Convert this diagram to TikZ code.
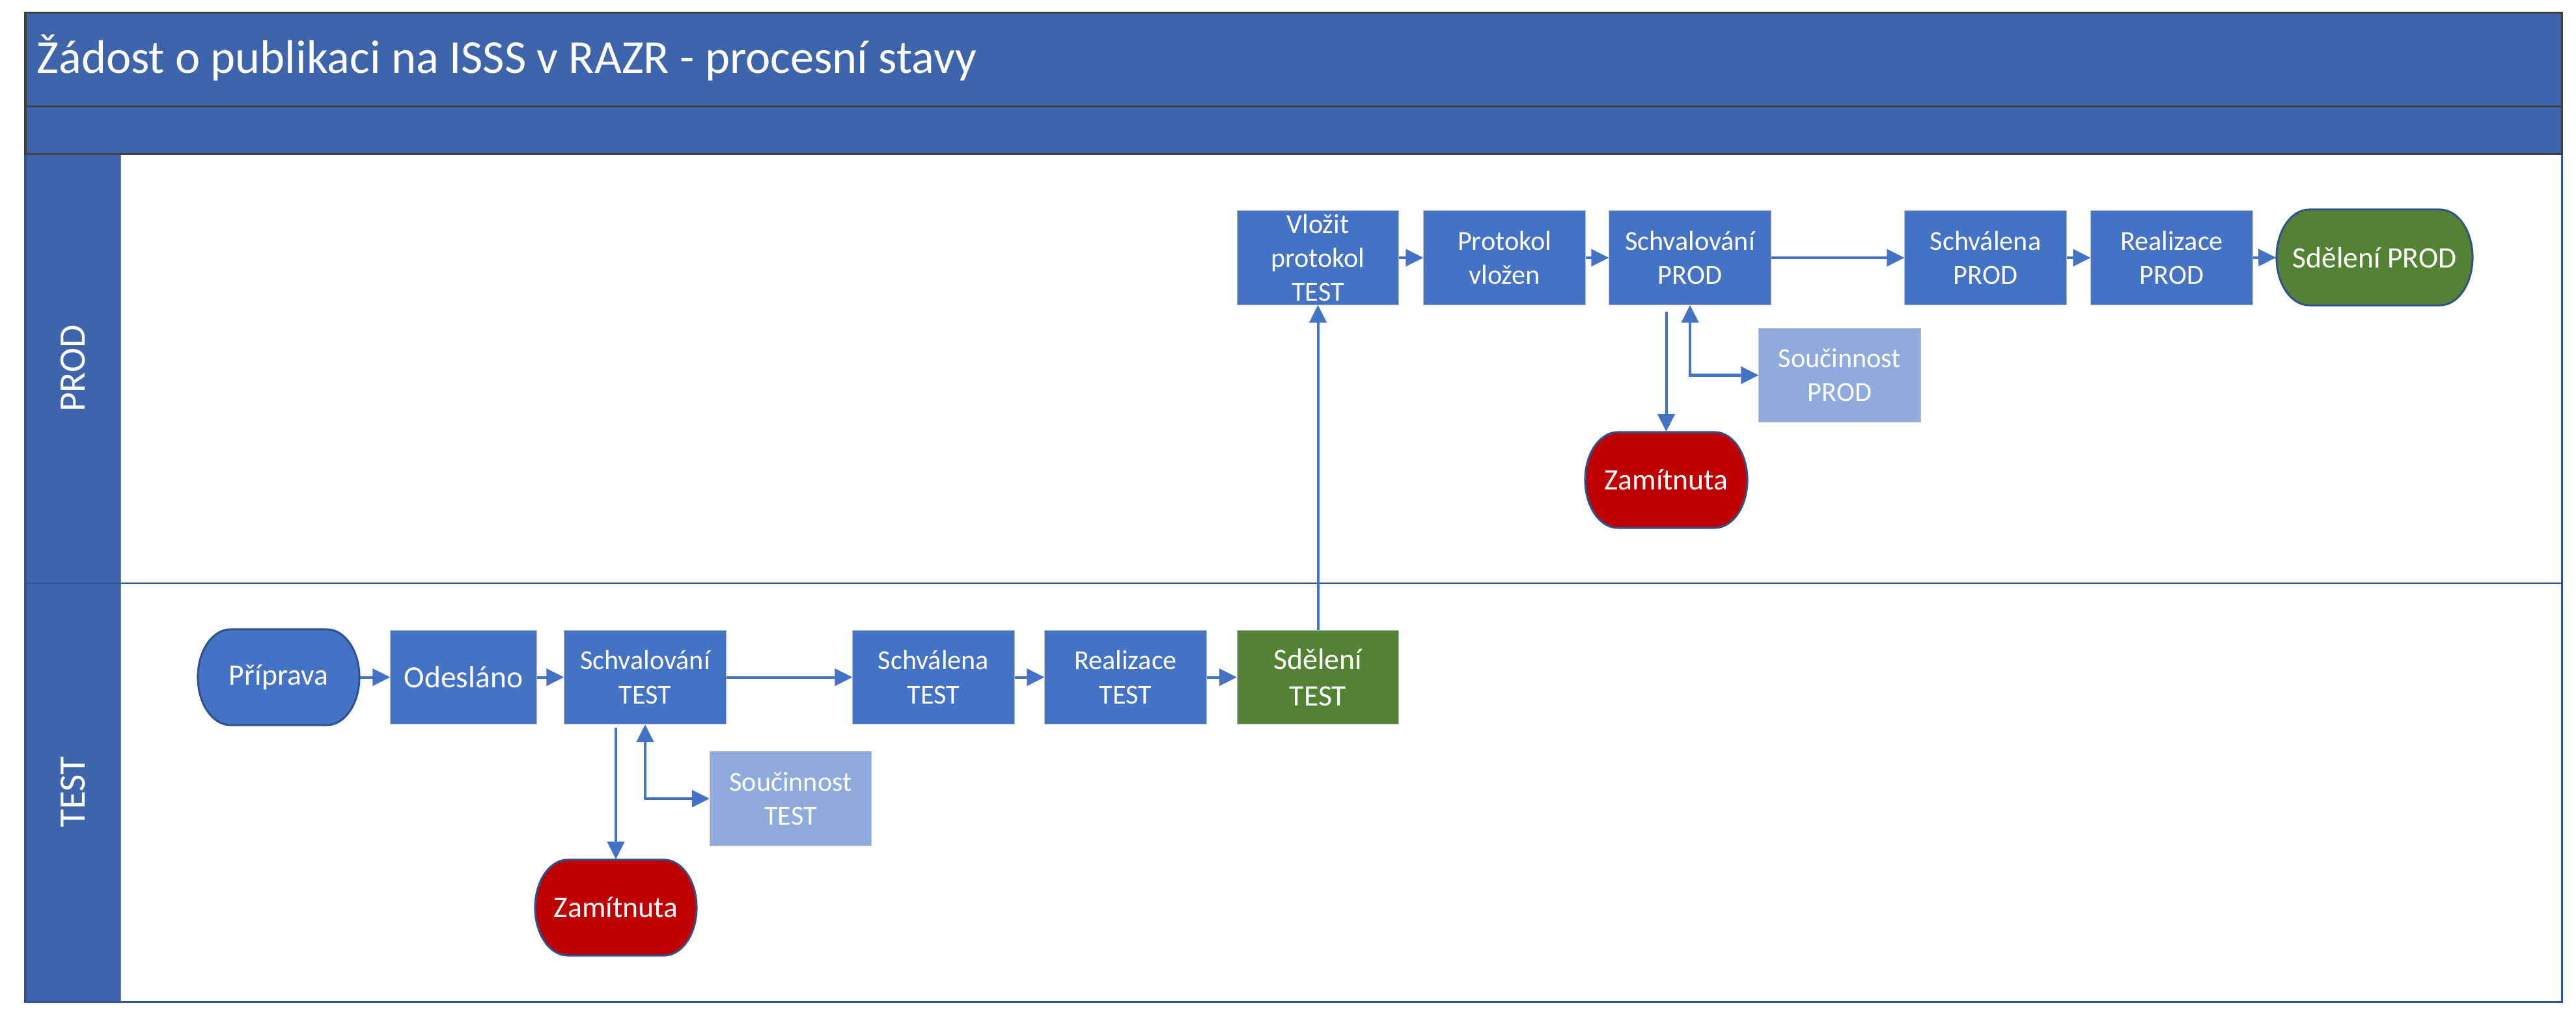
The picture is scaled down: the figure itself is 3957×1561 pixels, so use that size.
\documentclass[tikz,border=0pt]{standalone}
\usepackage{fontspec}
\setmainfont{Carlito}
\usetikzlibrary{arrows.meta,calc}
\definecolor{band}{RGB}{62,100,172}
\definecolor{nodeblue}{RGB}{68,114,196}
\definecolor{lightblue}{RGB}{143,170,220}
\definecolor{okgreen}{RGB}{84,130,53}
\definecolor{okred}{RGB}{192,0,0}
\definecolor{darkframe}{RGB}{64,64,64}
\definecolor{laneline}{RGB}{47,85,151}
\definecolor{termborder}{RGB}{47,82,143}
\definecolor{boxedge}{RGB}{190,190,190}
\newcommand\termnode[5]{%
  \begin{scope}[shift={#2}]
    \path[termshape,fill=#4] (-#3+0.5cm,0.735cm) -- (#3-0.5cm,0.735cm)
      arc[start angle=90,end angle=-90,x radius=0.5cm,y radius=0.735cm]
      -- (-#3+0.5cm,-0.735cm)
      arc[start angle=270,end angle=90,x radius=0.5cm,y radius=0.735cm] -- cycle;
  \end{scope}
  \node[termtext,minimum width=2*#3] (#1) at #2 {#5};
}
\begin{document}
\begin{tikzpicture}[x=0.01cm,y=-0.01cm,
  boxnode/.style={rectangle, fill=nodeblue, draw=boxedge, line width=0.3pt,
    minimum width=2.48cm, minimum height=1.44cm, inner sep=0pt, align=center,
    text=white, font=\fontsize{12}{14.8}\selectfont},
  lightbox/.style={boxnode, fill=lightblue},
  greenbox/.style={boxnode, fill=okgreen, font=\fontsize{13}{16}\selectfont},
  termshape/.style={draw=termborder, line width=0.03cm},
  termtext/.style={rectangle, minimum height=1.47cm, inner sep=0pt, align=center,
    text=white, font=\fontsize{13}{16}\selectfont},
  arr/.style={draw=nodeblue, line width=0.04cm, -{Triangle[length=0.27cm,width=0.26cm]}},
  arrboth/.style={draw=nodeblue, line width=0.04cm,
    {Triangle[length=0.27cm,width=0.26cm]}-{Triangle[length=0.27cm,width=0.26cm]}},
  lanelabel/.style={rotate=90, text=white, font=\fontsize{16.3}{20}\selectfont}
]
\useasboundingbox (0,0) rectangle (3957,1561);
% pool header
\fill[band] (39,20) rectangle (3935,237);
\fill[band] (39,237) rectangle (185,1539);
\draw[laneline, line width=0.03cm] (39,237) rectangle (3935,1539);
\draw[laneline, line width=0.015cm] (39,896) -- (3935,896);
\draw[laneline!70, line width=0.01cm] (185,237) -- (185,1539);
\draw[darkframe, line width=0.03cm] (39,20) rectangle (3935,237);
\draw[darkframe, line width=0.03cm] (39,164) -- (3935,164);
\node[anchor=base west, text=white, inner sep=0pt, font=\fontsize{20.6}{24}\selectfont] (title) at (56,113)
  {Žádost o publikaci na ISSS v RAZR - procesní stavy};
\node[lanelabel] (lprod) at (112,566) {PROD};
\node[lanelabel] (ltest) at (112,1217) {TEST};

% TEST lane
\termnode{prip}{(428,1040.5)}{1.24cm}{nodeblue}{Příprava}
\node[boxnode, minimum width=2.24cm, font=\fontsize{13.5}{16}\selectfont] (odes) at (712,1040.5) {Odesláno};
\node[boxnode] (schvT) at (991,1040.5) {Schvalování\\TEST};
\node[boxnode] (schvaT) at (1434,1040.5) {Schválena\\TEST};
\node[boxnode] (realT) at (1729,1040.5) {Realizace\\TEST};
\node[greenbox] (sdelT) at (2024.5,1040.5) {Sdělení\\TEST};
\node[lightbox] (souT) at (1214.5,1227) {Součinnost\\TEST};
\termnode{zamT}{(946,1394.5)}{1.24cm}{okred}{Zamítnuta}

% PROD lane
\node[boxnode] (vloz) at (2024.5,396) {Vložit\\protokol\\TEST};
\node[boxnode] (prot) at (2311,396) {Protokol\\vložen};
\node[boxnode] (schvP) at (2596,396) {Schvalování\\PROD};
\node[boxnode] (schvaP) at (3050,396) {Schválena\\PROD};
\node[boxnode] (realP) at (3336,396) {Realizace\\PROD};
\termnode{sdelP}{(3647.5,395.5)}{1.505cm}{okgreen}{Sdělení PROD}
\node[lightbox] (souP) at (2826,576.5) {Součinnost\\PROD};
\termnode{zamP}{(2559.5,737.5)}{1.245cm}{okred}{Zamítnuta}

% connectors TEST
\draw[arr] (prip) -- (odes);
\draw[arr] (odes) -- (schvT);
\draw[arr] (schvT) -- (schvaT);
\draw[arr] (schvaT) -- (realT);
\draw[arr] (realT) -- (sdelT);
\draw[arr] ($(schvT.south -| zamT.north)+(0,5)$) -- (zamT.north);
\draw[arrboth] (souT.west) -| (schvT.south);
\draw[arr] (sdelT.north) -- (vloz.south);

% connectors PROD
\draw[arr] (vloz) -- (prot);
\draw[arr] (prot) -- (schvP);
\draw[arr] (schvP) -- (schvaP);
\draw[arr] (schvaP) -- (realP);
\draw[arr] (realP) -- (sdelP);
\draw[arr] ($(schvP.south -| zamP.north)+(0,10)$) -- (zamP.north);
\draw[arrboth] (souP.west) -| (schvP.south);
\end{tikzpicture}
\end{document}
